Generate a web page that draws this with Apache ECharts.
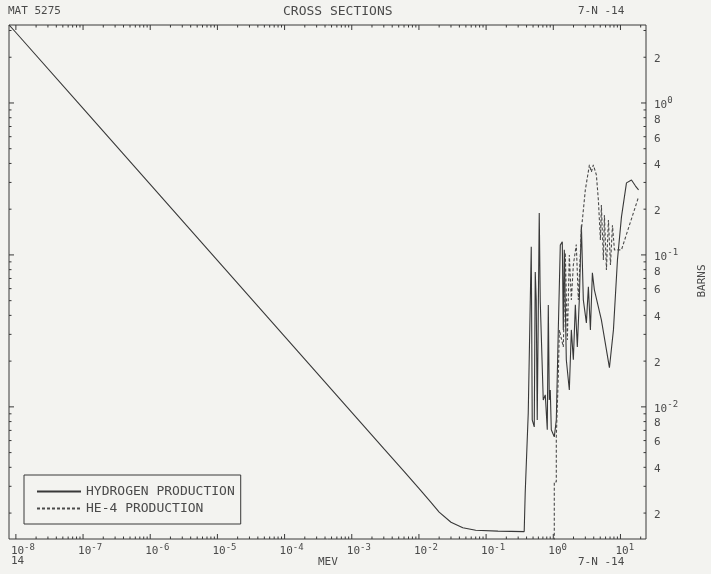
<!DOCTYPE html>
<html>
<head>
<meta charset="utf-8">
<script src="https://cdn.jsdelivr.net/npm/echarts@6/dist/echarts.min.js"></script>
<style>
  html, body { margin: 0; padding: 0; background: #f3f3f0; }
  #chart { width: 711px; height: 574px; }
</style>
</head>
<body>
<div id="chart"></div>
<script>
// N-14 neutron cross sections (MAT 5275), energy in MeV, cross section in barns

// Hydrogen production (n,p)
const hEnergy = [7.9e-9, 1e-8, 1e-7, 1e-6, 1e-5, 1e-4, 1e-3, 3e-3, 6e-3, 1e-2, 0.015, 0.02, 0.03, 0.045, 0.07, 0.15, 0.369,
  0.382, 0.409, 0.424, 0.439, 0.470, 0.486, 0.521, 0.539, 0.557, 0.577, 0.618, 0.640, 0.662, 0.709, 0.760,
  0.814, 0.843, 0.872, 0.902, 0.934, 1.035, 1.109, 1.187, 1.272, 1.362, 1.41, 1.459, 1.563, 1.733, 1.857,
  1.989, 2.13, 2.28, 2.44, 2.62, 2.80, 3.11, 3.33, 3.57, 3.82, 4.09, 5.20, 6.85, 7.86, 9.02, 10.35,
  12.29, 14.59, 16.75, 18.6];
const hSigma = [3.27, 2.91, 0.92, 0.291, 0.092, 0.0291, 0.0092, 0.00531, 0.00376, 0.00291, 0.00236, 0.00203, 0.00174, 0.0016, 0.00154, 0.00152, 0.00151,
  0.00272, 0.00272, 0.00913, 0.00913, 0.113, 0.0082, 0.00738, 0.0773, 0.0506, 0.0082, 0.189, 0.0491, 0.0491, 0.0111, 0.0120,
  0.00706, 0.0469, 0.0111, 0.0129, 0.00706, 0.00635, 0.0082, 0.0321, 0.116, 0.122, 0.0321, 0.108, 0.0204, 0.0129, 0.0321,
  0.0204, 0.0469, 0.0248, 0.0506, 0.157, 0.0506, 0.0357, 0.0616, 0.0321, 0.0762, 0.0589, 0.0374, 0.0181, 0.0321, 0.0927, 0.178,
  0.298, 0.311, 0.284, 0.268];

// He-4 production (n,alpha)
const aEnergy = [1.035, 1.035, 1.109, 1.109, 1.187, 1.23, 1.41, 1.51, 1.62, 1.733, 1.857, 1.989, 2.20, 2.36,
  2.62, 3.0, 3.45, 3.69, 3.95, 4.38, 4.69, 5.03, 5.20, 5.57, 5.77, 6.18, 6.62, 7.10, 7.60, 8.13,
  10.35, 13.6, 18.6];
const aSigma = [1e-4, 3.21e-3, 3.21e-3, 6.35e-3, 0.0157, 0.0321, 0.0248, 0.103, 0.0276, 0.100, 0.0506, 0.0859, 0.117, 0.0506,
  0.146, 0.268, 0.391, 0.352, 0.391, 0.336, 0.230, 0.1255, 0.213, 0.0927, 0.183, 0.0797, 0.170, 0.0859, 0.157, 0.108,
  0.108, 0.157, 0.241];

// Axis extents
const xMin = 7.9e-9, xMax = 24;
const yMin = 1.35e-3, yMax = 3.26;

// Tick labels
const xLabelValues = [1e-8, 1e-7, 1e-6, 1e-5, 1e-4, 1e-3, 1e-2, 1e-1, 1e0, 1e1];
const xLabelExps = ['-8', '-7', '-6', '-5', '-4', '-3', '-2', '-1', '0', '1'];
const yLabelValues = [2, 1, 0.8, 0.6, 0.4, 0.2, 0.1, 0.08, 0.06, 0.04, 0.02, 0.01, 0.008, 0.006, 0.004, 0.002];
const yLabelTexts = ['2', '10^0', '8', '6', '4', '2', '10^-1', '8', '6', '4', '2', '10^-2', '8', '6', '4', '2'];

// Tick marks: every 1..9 multiple within each decade
const xDecades = [-8, -7, -6, -5, -4, -3, -2, -1, 0, 1];
const yDecades = [-3, -2, -1, 0];
const mults = [1, 2, 3, 4, 5, 6, 7, 8, 9];

const FONT = 'DejaVu Sans Mono';
const INK = '#383838';
const TXT = '#4a4a4a';

function zip(a, b) { return a.map((v, i) => [v, b[i]]); }

const xTicks = [];
xDecades.forEach(d => mults.forEach(m => {
  const v = m * Math.pow(10, d);
  if (v >= xMin && v <= xMax) xTicks.push([v, yMin, m === 1 ? 1 : 0]);
}));
const yTicks = [];
yDecades.forEach(d => mults.forEach(m => {
  const v = m * Math.pow(10, d);
  if (v >= yMin && v <= yMax) yTicks.push([xMin, v, m === 1 ? 1 : 0]);
}));

const chart = echarts.init(document.getElementById('chart'), null, { renderer: 'canvas' });

const option = {
  animation: false,
  backgroundColor: '#f3f3f0',
  grid: { left: 9, right: 65, top: 25, bottom: 35, show: true, borderColor: INK, borderWidth: 1, backgroundColor: 'transparent' },
  xAxis: {
    type: 'log', min: xMin, max: xMax,
    axisLine: { show: false }, axisTick: { show: false }, axisLabel: { show: false }, splitLine: { show: false }
  },
  yAxis: {
    type: 'log', min: yMin, max: yMax, position: 'right',
    axisLine: { show: false }, axisTick: { show: false }, axisLabel: { show: false }, splitLine: { show: false }
  },
  legend: {
    orient: 'vertical', left: 24, top: 475,
    padding: [10, 6, 9, 12], itemGap: 4, itemWidth: 44, itemHeight: 10,
    borderColor: INK, borderWidth: 1,
    itemStyle: { opacity: 0 },
    textStyle: { fontFamily: FONT, fontSize: 13, color: TXT },
    data: ['HYDROGEN PRODUCTION', 'HE-4 PRODUCTION']
  },
  graphic: [
    { type: 'text', left: 8, top: 6, style: { text: 'MAT 5275', font: '11px ' + FONT, fill: TXT } },
    { type: 'text', left: 283, top: 5, style: { text: 'CROSS SECTIONS', font: '13px ' + FONT, fill: TXT } },
    { type: 'text', left: 578, top: 6, style: { text: '7-N -14', font: '11px ' + FONT, fill: TXT } },
    { type: 'text', left: 11, top: 556, style: { text: '14', font: '11px ' + FONT, fill: TXT } },
    { type: 'text', left: 318, top: 557, style: { text: 'MEV', font: '11px ' + FONT, fill: TXT } },
    { type: 'text', left: 578, top: 557, style: { text: '7-N -14', font: '11px ' + FONT, fill: TXT } },
    { type: 'text', x: 708, y: 281, rotation: Math.PI / 2,
      style: { text: 'BARNS', font: '11px ' + FONT, fill: TXT, align: 'center', verticalAlign: 'bottom' } }
  ],
  series: [
    {
      name: 'HYDROGEN PRODUCTION', type: 'line', data: zip(hEnergy, hSigma),
      symbol: 'none', lineStyle: { color: INK, width: 1.1 }, itemStyle: { color: INK }
    },
    {
      name: 'HE-4 PRODUCTION', type: 'line', data: zip(aEnergy, aSigma),
      symbol: 'none', lineStyle: { color: '#4a4a4a', width: 1.1, type: [3, 2] }, itemStyle: { color: '#4a4a4a' }
    },
    {
      // x tick marks on bottom and top frame edges
      type: 'custom', data: xTicks, silent: true, clip: false,
      renderItem: function (params, api) {
        const v = api.value(0);
        const major = api.value(2) === 1;
        const b = api.coord([v, yMin]);
        const t = api.coord([v, yMax]);
        const len = major ? 5 : 2.5;
        const st = { stroke: INK, lineWidth: 1 };
        return { type: 'group', children: [
          { type: 'line', shape: { x1: b[0], y1: b[1], x2: b[0], y2: b[1] - len }, style: st },
          { type: 'line', shape: { x1: t[0], y1: t[1], x2: t[0], y2: t[1] + len }, style: st }
        ] };
      }
    },
    {
      // y tick marks on left and right frame edges
      type: 'custom', data: yTicks, silent: true, clip: false,
      renderItem: function (params, api) {
        const v = api.value(1);
        const major = api.value(2) === 1;
        const l = api.coord([xMin, v]);
        const r = api.coord([xMax, v]);
        const len = major ? 5 : 2.5;
        const st = { stroke: INK, lineWidth: 1 };
        return { type: 'group', children: [
          { type: 'line', shape: { x1: l[0], y1: l[1], x2: l[0] + len, y2: l[1] }, style: st },
          { type: 'line', shape: { x1: r[0], y1: r[1], x2: r[0] - len, y2: r[1] }, style: st }
        ] };
      }
    },
    {
      // x tick labels: 10 with a raised exponent
      type: 'custom', data: xLabelValues.map(v => [v, yMin]), silent: true, clip: false,
      renderItem: function (params, api) {
        const p = api.coord([api.value(0), yMin]);
        return { type: 'text', x: p[0] - 5, y: p[1] + 3, style: {
          text: '{a|10}{b|' + xLabelExps[params.dataIndex] + '}',
          rich: {
            a: { fontFamily: FONT, fontSize: 11, fill: TXT, padding: [4, 0, 0, 0] },
            b: { fontFamily: FONT, fontSize: 9, fill: TXT, padding: [0, 0, 4, 0] }
          }
        } };
      }
    },
    {
      // y tick labels on the right side
      type: 'custom', data: yLabelValues.map(v => [xMax, v]), silent: true, clip: false,
      renderItem: function (params, api) {
        const p = api.coord([xMax, api.value(1)]);
        const t = yLabelTexts[params.dataIndex];
        let text;
        if (t.indexOf('^') >= 0) {
          const parts = t.split('^');
          text = '{a|' + parts[0] + '}{b|' + parts[1] + '}';
        } else {
          text = '{a|' + t + '}';
        }
        return { type: 'text', x: p[0] + 8, y: p[1], style: {
          text: text, verticalAlign: 'middle',
          rich: {
            a: { fontFamily: FONT, fontSize: 11, fill: TXT, padding: [4, 0, 0, 0] },
            b: { fontFamily: FONT, fontSize: 9, fill: TXT, padding: [0, 0, 4, 0] }
          }
        } };
      }
    }
  ]
};

chart.setOption(option);
</script>
</body>
</html>
